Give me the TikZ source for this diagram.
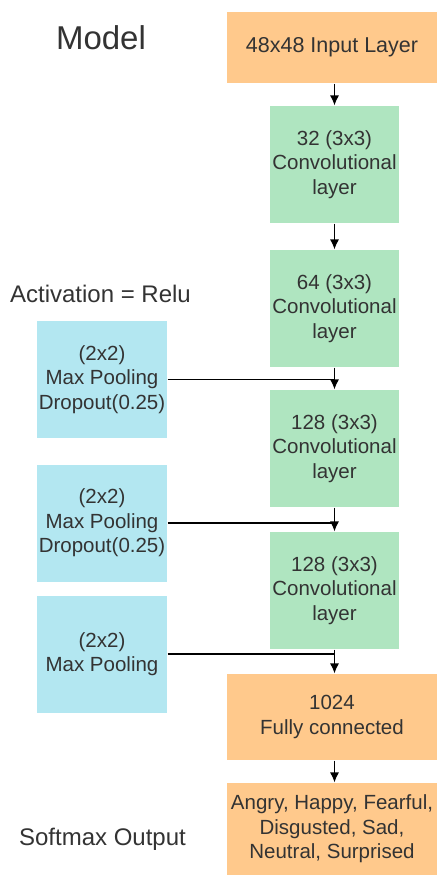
\documentclass[tikz,border=0pt]{standalone}
\usepackage{fontspec}
\setmainfont{Liberation Sans}
\usepackage{tikz}
\usetikzlibrary{arrows.meta}
\tikzset{>={Latex[length=10pt,width=9pt]}}
\usepackage{xcolor}
\definecolor{o1}{HTML}{FFC98C}
\definecolor{g1}{HTML}{AFE5C0}
\definecolor{c1}{HTML}{B3E7F1}
\definecolor{t1}{HTML}{333333}
\newcommand\boxfont{\fontsize{20.5}{24.5}\selectfont}
\tikzstyle{layer}=[inner sep=0pt,align=center,text=t1,font=\boxfont]
\tikzstyle{dense}=[layer,fill=o1,minimum width=210pt]
\tikzstyle{conv}=[layer,fill=g1,minimum width=129pt,minimum height=117pt]
\tikzstyle{pool}=[layer,fill=c1,minimum width=130pt,minimum height=117pt]
\tikzstyle{caption}=[inner sep=0pt,anchor=base,text=t1]

\begin{document}
\begin{tikzpicture}[x=1pt,y=-1pt,line width=1.2pt]
  \useasboundingbox (0,0) rectangle (437,875);
  \node[dense,minimum height=71pt,font=\fontsize{21.5}{25}\selectfont] (input) at (332,47.5) {48x48 Input Layer};
  \node[conv] (conv1) at (334.5,164.5) {32 (3x3)\\Convolutional\\layer};
  \node[conv] (conv2) at (334.5,308.5) {64 (3x3)\\Convolutional\\layer};
  \node[conv] (conv3) at (334.5,448.5) {128 (3x3)\\Convolutional\\layer};
  \node[conv] (conv4) at (334.5,590.5) {128 (3x3)\\Convolutional\\layer};
  \node[dense,minimum height=86pt] (fc) at (332,717) {1024\\Fully connected};
  \node[dense,minimum height=92pt] (out) at (332,829) {Angry, Happy, Fearful,\\Disgusted, Sad,\\Neutral, Surprised};
  \node[pool] (pool1) at (102,379.5) {(2x2)\\Max Pooling\\Dropout(0.25)};
  \node[pool] (pool2) at (102,523) {(2x2)\\Max Pooling\\Dropout(0.25)};
  \node[pool] (pool3) at (102,654) {(2x2)\\Max Pooling};
  % labels on the left
  \node[caption,font=\fontsize{33}{36}\selectfont] (model) at (101,50) {Model};
  \node[caption,font=\fontsize{24}{28}\selectfont] (act) at (100.5,302) {Activation = Relu};
  \node[caption,font=\fontsize{24}{28}\selectfont] (soft) at (102.5,845) {Softmax Output};
  % main flow
  \draw[->] (input.south -| conv1.north) -- (conv1.north);
  \draw[->] (conv1.south) -- (conv2.north);
  \draw[->] (conv2.south) -- (conv3.north);
  \draw[->] (conv3.south) -- (conv4.north);
  \draw[->] (conv4.south) -- (conv4.south |- fc.north);
  \draw[->] (fc.south -| conv4.south) -- (conv4.south |- out.north);
  % pooling joins
  \draw (pool1.east) -- (pool1.east -| conv2.south);
  \draw (pool2.east) -- (pool2.east -| conv3.south);
  \draw (pool3.east) -- (pool3.east -| conv4.south);
\end{tikzpicture}
\end{document}
